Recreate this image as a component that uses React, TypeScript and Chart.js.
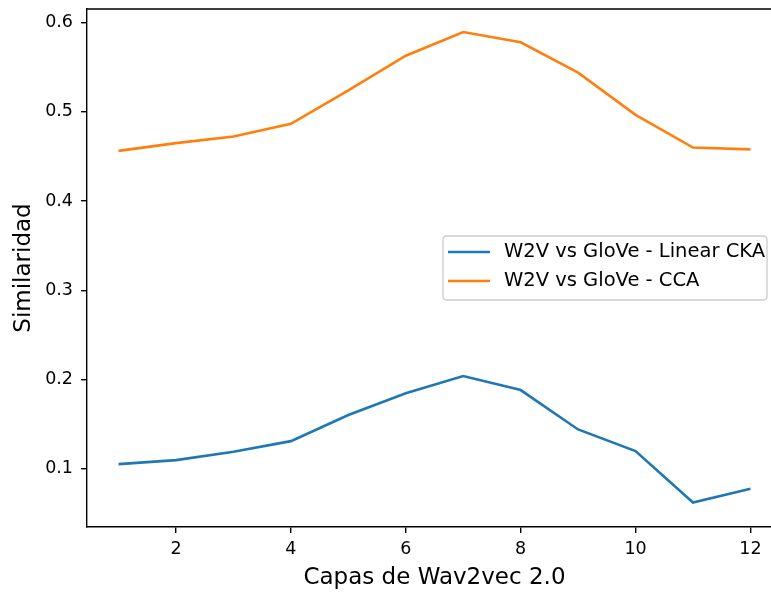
import React, { useEffect, useRef } from "react";
import { Chart, registerables } from "chart.js";

Chart.register(...registerables);

const layers = [1, 2, 3, 4, 5, 6, 7, 8, 9, 10, 11, 12];
const linearCka = [0.1049, 0.1094, 0.1187, 0.1307, 0.160, 0.1843, 0.2037, 0.188, 0.1438, 0.1195, 0.0619, 0.0772];
const cca = [0.4563, 0.465, 0.4724, 0.4866, 0.524, 0.563, 0.5895, 0.578, 0.544, 0.4967, 0.460, 0.458];
const seriesLabels = ["W2V vs GloVe - Linear CKA", "W2V vs GloVe - CCA"];
const seriesColors = ["#1f77b4", "#ff7f0e"];
const xTicks = [2, 4, 6, 8, 10, 12];
const yTicks = [0.1, 0.2, 0.3, 0.4, 0.5, 0.6];
const xTitle = "Capas de Wav2vec 2.0";
const yTitle = "Similaridad";

const FONT = "DejaVu Sans";

const framePlugin = {
  id: "frame",
  afterDraw(chart: any) {
    const { ctx, chartArea } = chart;
    ctx.save();
    ctx.strokeStyle = "#000";
    ctx.lineWidth = 1.4;
    ctx.beginPath();
    ctx.moveTo(chartArea.left, chartArea.top);
    ctx.lineTo(chartArea.right, chartArea.top);
    ctx.lineTo(chartArea.right, chartArea.bottom);
    ctx.stroke();
    ctx.restore();
  },
};

const legendPlugin = {
  id: "customLegend",
  afterDraw(chart: any) {
    const { ctx } = chart;
    const bx = 443, by = 236, bw = 324, bh = 64, r = 4;
    ctx.save();
    ctx.beginPath();
    ctx.moveTo(bx + r, by);
    ctx.lineTo(bx + bw - r, by);
    ctx.quadraticCurveTo(bx + bw, by, bx + bw, by + r);
    ctx.lineTo(bx + bw, by + bh - r);
    ctx.quadraticCurveTo(bx + bw, by + bh, bx + bw - r, by + bh);
    ctx.lineTo(bx + r, by + bh);
    ctx.quadraticCurveTo(bx, by + bh, bx, by + bh - r);
    ctx.lineTo(bx, by + r);
    ctx.quadraticCurveTo(bx, by, bx + r, by);
    ctx.closePath();
    ctx.fillStyle = "rgba(255,255,255,0.8)";
    ctx.fill();
    ctx.strokeStyle = "#cccccc";
    ctx.lineWidth = 1.3;
    ctx.stroke();
    const rows = [252, 281];
    chart.data.datasets.forEach((ds: any, i: number) => {
      const y = rows[i];
      ctx.strokeStyle = ds.borderColor;
      ctx.lineWidth = 2.6;
      ctx.beginPath();
      ctx.moveTo(448, y);
      ctx.lineTo(490, y);
      ctx.stroke();
      ctx.fillStyle = "#000";
      ctx.font = `19.5px '${FONT}'`;
      ctx.textBaseline = "middle";
      ctx.textAlign = "left";
      ctx.fillText(ds.label, 504, y);
    });
    ctx.restore();
  },
};

const zeroPad = (s: any) => {
  s.paddingTop = 0;
  s.paddingBottom = 0;
  s.paddingLeft = 0;
  s.paddingRight = 0;
};

export default function App() {
  const ref = useRef<HTMLCanvasElement>(null);
  useEffect(() => {
    const canvas = ref.current;
    if (!canvas) return;
    const chart = new Chart(canvas, {
      type: "line",
      data: {
        datasets: [linearCka, cca].map((vals, i) => ({
          label: seriesLabels[i],
          data: layers.map((x, j) => ({ x, y: vals[j] })),
          borderColor: seriesColors[i],
          backgroundColor: seriesColors[i],
          borderWidth: 2.6,
          pointRadius: 0,
          tension: 0,
          fill: false,
        })),
      },
      options: {
        animation: false,
        responsive: false,
        devicePixelRatio: 1,
        layout: { padding: { top: 9, right: 18, left: 0, bottom: 0 } },
        plugins: { legend: { display: false }, tooltip: { enabled: false } },
        scales: {
          x: {
            type: "linear",
            min: 0.45,
            max: 12.55,
            afterBuildTicks: (s: any) => {
              s.ticks = xTicks.map((v) => ({ value: v }));
            },
            afterFit: (s: any) => {
              s.height = 65;
              zeroPad(s);
            },
            ticks: {
              font: { family: FONT, size: 17.5 },
              color: "#000",
              padding: 6,
              maxRotation: 0,
              autoSkip: false,
              callback: (v: any) => String(v),
            },
            grid: { drawOnChartArea: false, drawTicks: true, tickLength: 6, color: "#000", lineWidth: 1.4 },
            border: { display: true, color: "#000", width: 1.4 },
            title: {
              display: true,
              text: xTitle,
              color: "#000",
              font: { family: FONT, size: 23 },
              padding: { top: 0, bottom: 0 },
            },
          },
          y: {
            type: "linear",
            min: 0.0344,
            max: 0.6154,
            afterBuildTicks: (s: any) => {
              s.ticks = yTicks.map((v) => ({ value: v }));
            },
            afterFit: (s: any) => {
              s.width = 87;
              zeroPad(s);
            },
            ticks: {
              font: { family: FONT, size: 17.5 },
              color: "#000",
              padding: 8,
              autoSkip: false,
              callback: (v: any) => Number(v).toFixed(1),
            },
            grid: { drawOnChartArea: false, drawTicks: true, tickLength: 6, color: "#000", lineWidth: 1.4 },
            border: { display: true, color: "#000", width: 1.4 },
            title: {
              display: true,
              text: yTitle,
              color: "#000",
              font: { family: FONT, size: 23 },
              padding: { top: 10, bottom: 0 },
            },
          },
        },
      },
      plugins: [framePlugin, legendPlugin],
    });
    return () => chart.destroy();
  }, []);
  return (
    <div
      style={{
        position: "fixed",
        left: 0,
        top: 0,
        width: 771,
        height: 592,
        overflow: "hidden",
        background: "#fff",
      }}
    >
      <canvas ref={ref} width={800} height={592} style={{ display: "block" }} />
    </div>
  );
}
